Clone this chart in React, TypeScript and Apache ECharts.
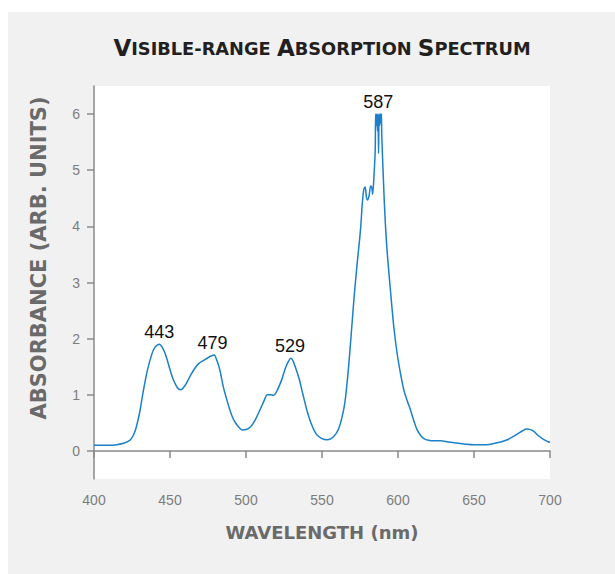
import React, { useEffect, useRef } from "react";
import * as echarts from "echarts";

const wavelengths = [
  400, 410, 415, 420, 424, 427, 430, 432, 435, 438, 440, 443, 445, 447, 450, 452, 455, 457, 460, 463,
  466, 469, 472, 475, 477, 479, 481, 483, 485, 487.5, 490, 492, 495, 497.5, 500, 503, 506, 509, 512, 514,
  516, 518, 520, 523.5, 526, 528, 529.5, 531, 533, 535, 537.5, 540, 543, 546.5, 550, 553, 556, 559, 561, 563,
  565, 567, 569, 571, 573, 574.5, 575.5, 576.5, 577.5, 578.4, 579.2, 580, 581, 582, 582.7, 583.3, 584.3, 585,
  585.3, 585.7, 586.1, 586.5, 586.9, 587.2, 587.6, 588.0, 588.4, 588.8, 589.1, 589.3, 590.6, 591.7, 593, 595, 597.2, 599.4,
  601.5, 603.8, 606, 608.2, 610.5, 612.6, 615, 617, 620, 624, 628, 633, 639, 645, 650, 655, 661, 666,
  672, 676, 679, 682, 684.6, 687, 689.4, 692, 696, 700,
];

const absorbance = [
  0.1, 0.1, 0.11, 0.14, 0.2, 0.35, 0.68, 1.0, 1.42, 1.72, 1.84, 1.9, 1.84, 1.72, 1.45, 1.28, 1.12, 1.09, 1.17, 1.32,
  1.46, 1.56, 1.61, 1.66, 1.69, 1.71, 1.6, 1.42, 1.15, 0.9, 0.68, 0.55, 0.43, 0.375, 0.38, 0.43, 0.55, 0.72, 0.9, 1.0,
  1.0, 0.99, 1.05, 1.27, 1.48, 1.6, 1.65, 1.6, 1.45, 1.28, 1.0, 0.73, 0.48, 0.29, 0.22, 0.2, 0.22, 0.3, 0.4, 0.58,
  0.85, 1.35, 2.0, 2.7, 3.3, 3.7, 4.0, 4.4, 4.66, 4.7, 4.52, 4.47, 4.55, 4.72, 4.7, 4.57, 4.95, 5.35,
  6.0, 5.8, 6.0, 5.7, 6.0, 5.3, 6.0, 5.8, 6.0, 5.85, 6.0, 5.64, 4.69, 4.04, 3.5, 2.87, 2.22, 1.74,
  1.4, 1.09, 0.9, 0.73, 0.53, 0.375, 0.27, 0.22, 0.19, 0.18, 0.18, 0.16, 0.14, 0.12, 0.11, 0.11, 0.12, 0.15,
  0.2, 0.26, 0.31, 0.36, 0.39, 0.38, 0.35, 0.28, 0.2, 0.15,
];

const peakLabels = ["443", "479", "529", "587"];
const peakX = [443, 478, 529, 587];
const peakY = [1.9, 1.71, 1.65, 6.0];

const yTicks = [0, 1, 2, 3, 4, 5, 6];

export default function App() {
  const ref = useRef<HTMLDivElement>(null);

  useEffect(() => {
    document.body.style.margin = "0";
    const chart = echarts.init(ref.current!, null, { renderer: "svg" });
    const data = wavelengths.map((w, i) => [w, absorbance[i]]);
    const axisColor = "#8a8a8a";
    const labelColor = "#7d7d7d";
    const nameFont = "DejaVu Sans";
    chart.setOption({
      animation: false,
      backgroundColor: "#ffffff",
      graphic: [
        {
          type: "rect",
          z: -10,
          silent: true,
          shape: { x: 8, y: 12, width: 607, height: 562 },
          style: { fill: "#f1f1f1" },
        },
        {
          type: "text",
          x: 322,
          y: 48,
          style: {
            text: "{b|V}{s|ISIBLE-RANGE }{b|A}{s|BSORPTION }{b|S}{s|PECTRUM}",
            align: "center",
            verticalAlign: "middle",
            rich: {
              b: { fontSize: 23, fontWeight: "bold", fontFamily: nameFont, fill: "#231f20" },
              s: { fontSize: 17.8, fontWeight: "bold", fontFamily: nameFont, fill: "#231f20" },
            },
          },
        },
        {
          type: "text",
          x: 39,
          y: 258,
          rotation: Math.PI / 2,
          style: {
            text: "ABSORBANCE (ARB. UNITS)",
            fontSize: 21,
            fontWeight: "bold",
            fontFamily: nameFont,
            fill: "#6a6a6a",
            align: "center",
            verticalAlign: "middle",
          },
        },
      ],
      grid: {
        left: 94,
        top: 86,
        width: 456,
        height: 393,
        show: true,
        backgroundColor: "#ffffff",
        borderWidth: 0,
      },
      xAxis: {
        type: "value",
        min: 400,
        max: 700,
        interval: 50,
        name: "WAVELENGTH (nm)",
        nameLocation: "middle",
        nameGap: 44,
        nameTextStyle: {
          color: "#6a6a6a",
          fontSize: 18,
          fontWeight: "bold",
          fontFamily: nameFont,
        },
        axisLine: { show: true, lineStyle: { color: axisColor, width: 1.5 } },
        axisTick: { show: true, length: 7, lineStyle: { color: axisColor, width: 1.5 } },
        axisLabel: { color: labelColor, fontSize: 14, margin: 14, fontFamily: "Liberation Sans" },
        splitLine: { show: false },
      },
      yAxis: {
        type: "value",
        min: -0.5,
        max: 6.5,
        axisLine: { show: true, lineStyle: { color: axisColor, width: 1.5 } },
        axisTick: {
          show: true,
          length: 7,
          customValues: yTicks,
          lineStyle: { color: axisColor, width: 1.5 },
        },
        axisLabel: {
          color: labelColor,
          fontSize: 14,
          margin: 14,
          customValues: yTicks,
          fontFamily: "Liberation Sans",
        },
        splitLine: { show: false },
      },
      series: [
        {
          type: "line",
          data,
          showSymbol: false,
          smooth: 0.3,
          lineStyle: { color: "#1a80c8", width: 1.5 },
          itemStyle: { color: "#1a80c8" },
          markPoint: {
            symbol: "circle",
            symbolSize: 0,
            label: {
              show: true,
              position: "top",
              distance: 3,
              color: "#111111",
              fontSize: 18,
              fontFamily: "Liberation Sans",
              formatter: (p: any) => p.name,
            },
            data: peakLabels.map((l, i) => ({ name: l, coord: [peakX[i], peakY[i]] })),
          },
        },
      ],
    });
    return () => chart.dispose();
  }, []);

  return <div ref={ref} style={{ width: 615, height: 574 }} />;
}
